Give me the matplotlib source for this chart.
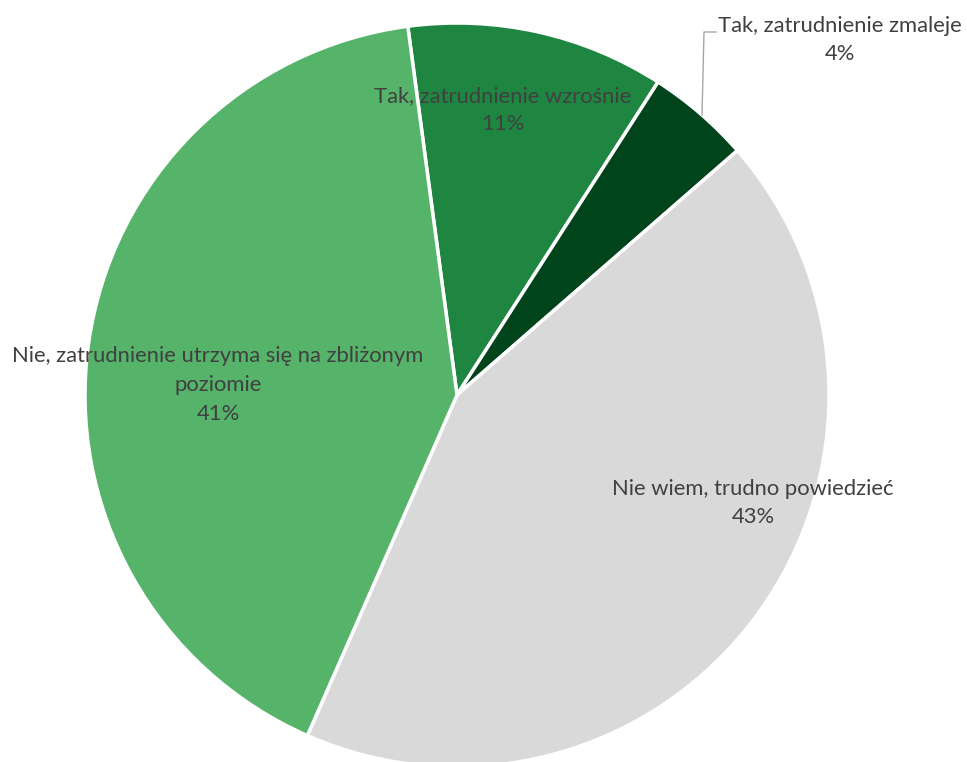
import matplotlib
matplotlib.use("Agg")
import matplotlib.pyplot as plt

labels = [
    "Tak, zatrudnienie wzrośnie",
    "Tak, zatrudnienie zmaleje",
    "Nie wiem, trudno powiedzieć",
    "Nie, zatrudnienie utrzyma się na zbliżonym\npoziomie",
]
values = [11.2, 4.5, 43.0, 41.3]
pct_labels = ["11%", "4%", "43%", "41%"]
colors = ["#1F8641", "#00441B", "#D9D9D9", "#55B46A"]

plt.rcParams['font.family'] = ['Lato', 'DejaVu Sans']

fig = plt.figure(figsize=(9.67, 7.62), dpi=100)
ax = fig.add_axes([0, 0, 1, 1])

# pie centre at (457, 395) px, radius 372 px
R = 372.0
cx, cy = 457.0, 395.0
W, H = 967.0, 762.0
ax.axis("off")

ax.pie(values, colors=colors, startangle=97.6, counterclock=False, radius=1,
       wedgeprops=dict(edgecolor="white", linewidth=2.5))
ax.set_aspect("auto")
ax.set_xlim(-cx / R, (W - cx) / R)
ax.set_ylim(-(H - cy) / R, cy / R)


def px(x, y):
    return (x - cx) / R, (cy - y) / R


txt = dict(color="#404040", fontsize=15.8, ha="center", va="center", linespacing=1.55)
positions = [(503, 110), (840, 40), (753, 503), (218, 385)]
for lab, pct, pos in zip(labels, pct_labels, positions):
    x, y = px(*pos)
    ax.text(x, y, lab + "\n" + pct, **txt)

# leader line for small slice
lx, ly = zip(px(702, 115), px(704, 32), px(716, 32))
ax.plot(lx, ly, color="#A6A6A6", lw=1)

fig.savefig("out.png", dpi=100)
